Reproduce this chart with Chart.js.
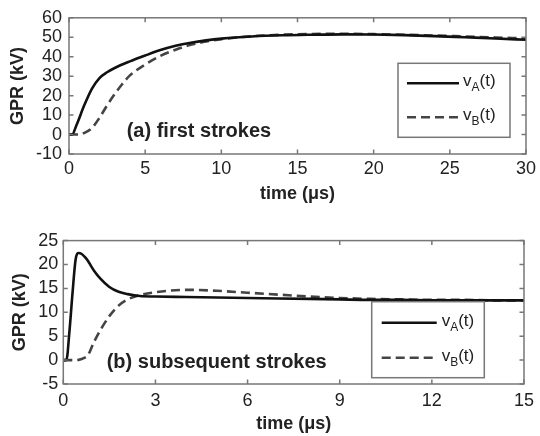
<!DOCTYPE html>
<html>
<head>
<meta charset="utf-8">
<script src="https://cdn.jsdelivr.net/npm/chart.js@4/dist/chart.umd.min.js"></script>
<style>
    html, body { margin: 0; padding: 0; background: #fff; }
    #wrap { position: relative; width: 540px; height: 436px; }
    #firstChart { position: absolute; left: 0; top: 0; }
    #subChart { position: absolute; left: 0; top: 216px; }
</style>
</head>
<body>
<div id="wrap">
    <canvas id="firstChart" width="540" height="216"></canvas>
    <canvas id="subChart" width="540" height="220"></canvas>
</div>
<script>
// (a) first strokes - time in us, GPR in kV
const firstTimeA = [0, 0.2, 0.5, 1, 1.5, 2, 2.5, 3, 4, 5, 6, 7, 8, 9, 10, 12, 14, 16, 18, 20, 22, 24, 26, 28, 30];
const firstVA    = [0, 0, 5, 15, 23.5, 29, 32, 34.2, 37.6, 40.6, 43.4, 45.6, 47.2, 48.4, 49.3, 50.4, 51, 51.3, 51.5, 51.4, 51.1, 50.6, 50, 49.4, 48.7];
const firstTimeB = [0, 0.4, 0.7, 1, 1.5, 2, 2.5, 3, 3.5, 4, 5, 6, 7, 8, 9, 10, 12, 14, 16, 18, 20, 22, 24, 26, 28, 30];
const firstVB    = [0, 0, 0, 0.8, 3.3, 8.6, 15, 20.8, 26, 30.4, 36, 40.4, 43.6, 46.1, 47.8, 49, 50.5, 51.3, 51.7, 51.8, 51.6, 51.3, 50.9, 50.4, 49.9, 49.4];

// (b) subsequent strokes
const subTimeA = [0, 0.1, 0.2, 0.3, 0.4, 0.5, 0.6, 0.7, 0.8, 0.9, 1, 1.2, 1.5, 1.8, 2.1, 2.5, 3, 4, 5, 6, 7, 8, 9, 10, 11, 12, 13, 14, 15];
const subVA    = [0, 0, 6, 14, 21, 22.4, 22.2, 21.6, 20.8, 19.7, 18.7, 17.1, 15.3, 14.3, 13.8, 13.4, 13.3, 13.2, 13.1, 13, 12.9, 12.8, 12.7, 12.6, 12.6, 12.5, 12.5, 12.5, 12.5];
const subTimeB = [0, 0.3, 0.5, 0.7, 0.8, 1, 1.2, 1.5, 1.8, 2.1, 2.5, 3, 4, 5, 6, 7, 8, 9, 10, 11, 12, 13, 14, 15];
const subVB    = [0, 0, 0.05, 0.5, 1, 3.8, 6.2, 9.2, 11.4, 12.7, 13.6, 14.2, 14.7, 14.5, 14.1, 13.7, 13.3, 13, 12.8, 12.7, 12.6, 12.6, 12.5, 12.5];

const seriesSubs = ['A', 'B'];

const FONT = '"Liberation Sans", Arial, sans-serif';
Chart.defaults.font.family = FONT;
Chart.defaults.font.size = 18;
Chart.defaults.color = '#222';

function toPoints(xs, ys) {
    return xs.map((x, i) => ({ x: x, y: ys[i] }));
}

// Matlab-like box with inward ticks, legend and panel note
const matlabBox = {
    id: 'matlabBox',
    afterDatasetsDraw(chart, args, opts) {
        const ctx = chart.ctx;
        ctx.save();

        // panel note
        ctx.fillStyle = '#222';
        ctx.font = 'bold 20px ' + FONT;
        ctx.textBaseline = 'alphabetic';
        ctx.textAlign = 'left';
        ctx.fillText(opts.note, opts.noteX, opts.noteY);

        // legend box
        const L = opts.legend;
        ctx.fillStyle = '#fff';
        ctx.fillRect(L.x, L.y, L.w, L.h);
        ctx.strokeStyle = '#777';
        ctx.lineWidth = 1.5;
        ctx.strokeRect(L.x, L.y, L.w, L.h);

        chart.data.datasets.forEach((ds, i) => {
            const y = L.y + L.rows[i];
            ctx.beginPath();
            ctx.setLineDash(ds.borderDash || []);
            ctx.strokeStyle = ds.borderColor;
            ctx.lineWidth = ds.borderWidth;
            ctx.moveTo(L.x + L.line0, y);
            ctx.lineTo(L.x + L.line1, y);
            ctx.stroke();
            ctx.setLineDash([]);

            // v_X(t)
            let tx = L.x + L.text;
            ctx.fillStyle = '#222';
            ctx.font = '17px ' + FONT;
            ctx.fillText('v', tx, y + 3);
            tx += ctx.measureText('v').width;
            ctx.font = '12px ' + FONT;
            ctx.fillText(seriesSubs[i], tx, y + 8);
            tx += ctx.measureText(seriesSubs[i]).width;
            ctx.font = '17px ' + FONT;
            ctx.fillText('(t)', tx, y + 3);
        });
        ctx.restore();
    },
    afterDraw(chart) {
        const { ctx, chartArea: a, scales: { x, y } } = chart;
        const tl = 4.5;
        ctx.save();
        ctx.strokeStyle = '#777';
        ctx.lineWidth = 1.5;
        ctx.strokeRect(a.left, a.top, a.right - a.left, a.bottom - a.top);
        ctx.beginPath();
        x.ticks.forEach(t => {
            const px = x.getPixelForValue(t.value);
            ctx.moveTo(px, a.bottom); ctx.lineTo(px, a.bottom - tl);
            ctx.moveTo(px, a.top); ctx.lineTo(px, a.top + tl);
        });
        y.ticks.forEach(t => {
            const py = y.getPixelForValue(t.value);
            ctx.moveTo(a.left, py); ctx.lineTo(a.left + tl, py);
            ctx.moveTo(a.right, py); ctx.lineTo(a.right - tl, py);
        });
        ctx.stroke();
        ctx.restore();
    }
};

function makeDatasets(tA, vA, tB, vB) {
    return [
        {
            label: 'vA(t)',
            data: toPoints(tA, vA),
            borderColor: '#111',
            borderWidth: 2.6,
            pointRadius: 0,
            cubicInterpolationMode: 'monotone'
        },
        {
            label: 'vB(t)',
            data: toPoints(tB, vB),
            borderColor: '#444',
            borderWidth: 2.6,
            borderDash: [9, 5],
            pointRadius: 0,
            cubicInterpolationMode: 'monotone'
        }
    ];
}

function makeScales(cfg) {
    return {
        x: {
            type: 'linear',
            min: cfg.xMin, max: cfg.xMax,
            ticks: { stepSize: cfg.xStep, padding: cfg.xPad, autoSkip: false, maxRotation: 0 },
            grid: { display: false, drawTicks: false },
            border: { display: false },
            title: {
                display: true, text: 'time (μs)',
                font: { size: 18, weight: 'bold' },
                padding: { top: 0, bottom: cfg.xTitlePad }
            },
            afterFit(s) { s.height = cfg.xHeight; }
        },
        y: {
            type: 'linear',
            min: cfg.yMin, max: cfg.yMax,
            ticks: { stepSize: cfg.yStep, padding: cfg.yPad, autoSkip: false },
            grid: { display: false, drawTicks: false },
            border: { display: false },
            title: {
                display: true, text: 'GPR (kV)',
                font: { size: 18, weight: 'bold' },
                padding: { top: cfg.yTitlePad, bottom: 0 }
            },
            afterFit(s) { s.width = cfg.yWidth; }
        }
    };
}

document.addEventListener('DOMContentLoaded', function () {
    // First strokes
    new Chart(document.getElementById('firstChart'), {
        type: 'line',
        data: { datasets: makeDatasets(firstTimeA, firstVA, firstTimeB, firstVB) },
        options: {
            responsive: false,
            animation: false,
            layout: { padding: { top: 13.3, right: 10, left: 0, bottom: 0 } },
            plugins: {
                legend: { display: false },
                tooltip: { enabled: false },
                matlabBox: {
                    note: '(a) first strokes', noteX: 126.7, noteY: 137.3,
                    legend: { x: 398, y: 63.3, w: 112, h: 74, rows: [20, 54], line0: 9, line1: 61, text: 65 }
                }
            },
            scales: makeScales({
                xMin: 0, xMax: 30, xStep: 5, xPad: 4, xTitlePad: 10.8, xHeight: 62,
                yMin: -10, yMax: 60, yStep: 10, yPad: 7, yTitlePad: 7.5, yWidth: 69
            })
        },
        plugins: [matlabBox]
    });

    // Subsequent strokes
    new Chart(document.getElementById('subChart'), {
        type: 'line',
        data: { datasets: makeDatasets(subTimeA, subVA, subTimeB, subVB) },
        options: {
            responsive: false,
            animation: false,
            layout: { padding: { top: 24.6, right: 10, left: 0, bottom: 0 } },
            plugins: {
                legend: { display: false },
                tooltip: { enabled: false },
                matlabBox: {
                    note: '(b) subsequent strokes', noteX: 106.7, noteY: 151.5,
                    legend: { x: 371.7, y: 85.7, w: 112.6, h: 76, rows: [21, 56], line0: 10, line1: 65, text: 70 }
                }
            },
            scales: makeScales({
                xMin: 0, xMax: 15, xStep: 3, xPad: 6, xTitlePad: 1.5, xHeight: 52,
                yMin: -5, yMax: 25, yStep: 5, yPad: 5, yTitlePad: 9.2, yWidth: 63.3
            })
        },
        plugins: [matlabBox]
    });
});
</script>
</body>
</html>
